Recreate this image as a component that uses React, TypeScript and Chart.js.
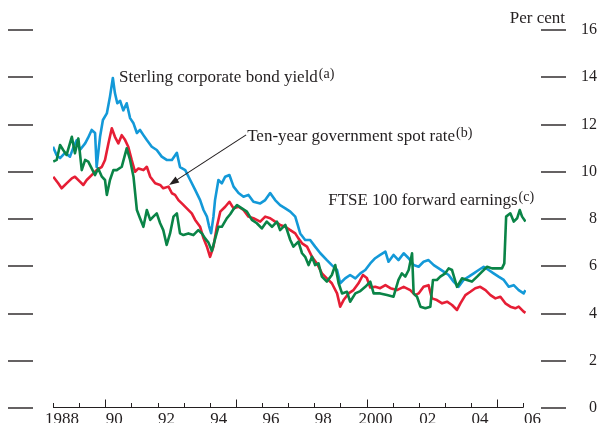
import { useEffect, useRef } from 'react';
import { Chart, registerables } from 'chart.js';

Chart.register(...registerables);

const FONT = '"Liberation Serif", "Times New Roman", serif';
const TEXT_COLOR = '#231f20';
const AXIS_COLOR = '#231f20';

// Tick labels
const yearTicks = [1988, 1989, 1990, 1991, 1992, 1993, 1994, 1995, 1996, 1997, 1998, 1999, 2000, 2001, 2002, 2003, 2004, 2005, 2006];
const yearLabels = ['1988', '', '90', '', '92', '', '94', '', '96', '', '98', '', '2000', '', '02', '', '04', '', '06'];
const majorYears = [1990, 1995, 2000, 2005];
const yTickValues = [0, 2, 4, 6, 8, 10, 12, 14, 16];

// Sterling corporate bond yield (a)
const corpBondDates = [1988.00, 1988.14, 1988.27, 1988.46, 1988.65, 1988.77, 1988.91, 1989.03, 1989.23, 1989.34, 1989.48, 1989.61, 1989.67, 1989.80, 1989.91, 1990.06, 1990.18, 1990.29, 1990.37, 1990.46, 1990.57, 1990.69, 1990.82, 1990.95, 1991.08, 1991.21, 1991.33, 1991.46, 1991.59, 1991.78, 1991.97, 1992.16, 1992.35, 1992.55, 1992.74, 1992.86, 1993.06, 1993.25, 1993.44, 1993.63, 1993.76, 1993.89, 1993.97, 1994.05, 1994.14, 1994.20, 1994.33, 1994.46, 1994.59, 1994.75, 1994.91, 1995.10, 1995.29, 1995.48, 1995.67, 1995.93, 1996.12, 1996.31, 1996.50, 1996.69, 1996.89, 1997.08, 1997.27, 1997.46, 1997.65, 1997.84, 1998.03, 1998.23, 1998.48, 1998.67, 1998.87, 1998.99, 1999.18, 1999.37, 1999.57, 1999.76, 1999.95, 2000.14, 2000.33, 2000.52, 2000.72, 2000.84, 2001.03, 2001.22, 2001.42, 2001.61, 2001.80, 2001.99, 2002.18, 2002.37, 2002.57, 2002.76, 2002.95, 2003.14, 2003.33, 2003.52, 2003.71, 2003.91, 2004.10, 2004.29, 2004.48, 2004.67, 2004.86, 2005.05, 2005.25, 2005.44, 2005.63, 2005.82, 2006.01, 2006.08];
const corpBondYield = [11.06, 10.7, 10.58, 10.8, 10.64, 11.0, 11.34, 10.92, 11.2, 11.43, 11.77, 11.64, 10.2, 11.48, 12.19, 12.47, 13.18, 13.97, 13.33, 12.9, 13.0, 12.6, 12.9, 12.27, 12.05, 11.64, 11.77, 11.55, 11.34, 11.06, 10.92, 10.64, 10.5, 10.5, 10.8, 10.2, 10.07, 9.65, 9.23, 8.8, 8.38, 8.1, 7.7, 7.4, 8.1, 8.8, 9.65, 9.51, 9.79, 9.86, 9.37, 9.1, 8.94, 9.02, 8.73, 8.66, 8.8, 9.1, 8.8, 8.59, 8.45, 8.31, 8.1, 7.39, 7.11, 7.11, 6.83, 6.55, 6.26, 6.05, 5.84, 5.28, 5.49, 5.63, 5.49, 5.7, 5.84, 6.12, 6.34, 6.48, 6.62, 6.19, 6.48, 6.26, 6.55, 6.34, 6.05, 5.98, 6.19, 6.26, 6.05, 5.91, 5.77, 5.63, 5.35, 5.13, 5.42, 5.56, 5.7, 5.84, 5.98, 5.84, 5.7, 5.56, 5.42, 5.13, 5.2, 4.99, 4.85, 4.99];

// Ten-year government spot rate (b)
const giltDates = [1988.01, 1988.20, 1988.33, 1988.52, 1988.72, 1988.84, 1989.03, 1989.16, 1989.29, 1989.48, 1989.67, 1989.87, 1989.99, 1990.12, 1990.25, 1990.37, 1990.50, 1990.63, 1990.76, 1990.88, 1991.01, 1991.14, 1991.27, 1991.46, 1991.59, 1991.72, 1991.91, 1992.10, 1992.22, 1992.42, 1992.55, 1992.67, 1992.80, 1992.93, 1993.12, 1993.31, 1993.44, 1993.63, 1993.76, 1993.89, 1994.01, 1994.14, 1994.27, 1994.40, 1994.59, 1994.75, 1994.91, 1995.10, 1995.29, 1995.48, 1995.67, 1995.93, 1996.12, 1996.31, 1996.50, 1996.69, 1996.89, 1997.08, 1997.27, 1997.39, 1997.53, 1997.72, 1997.91, 1998.10, 1998.29, 1998.48, 1998.67, 1998.87, 1998.99, 1999.12, 1999.31, 1999.50, 1999.69, 1999.86, 2000.01, 2000.14, 2000.33, 2000.52, 2000.72, 2000.91, 2001.16, 2001.42, 2001.67, 2001.86, 2001.99, 2002.18, 2002.37, 2002.50, 2002.69, 2002.89, 2003.08, 2003.27, 2003.46, 2003.59, 2003.78, 2003.97, 2004.16, 2004.35, 2004.55, 2004.74, 2004.93, 2005.12, 2005.31, 2005.50, 2005.69, 2005.82, 2006.01, 2006.08];
const giltSpotRate = [9.79, 9.51, 9.3, 9.51, 9.72, 9.79, 9.58, 9.44, 9.65, 9.86, 10.07, 10.21, 10.5, 11.2, 11.84, 11.48, 11.2, 11.55, 11.34, 11.06, 10.5, 10.0, 10.14, 10.07, 10.21, 9.79, 9.51, 9.44, 9.3, 9.37, 9.09, 9.02, 8.8, 8.66, 8.45, 8.24, 7.96, 7.67, 7.18, 6.83, 6.4, 6.83, 7.67, 8.31, 8.52, 8.73, 8.45, 8.52, 8.38, 8.1, 8.03, 7.89, 8.1, 8.03, 7.89, 7.75, 7.67, 7.53, 7.39, 7.18, 6.97, 6.83, 6.4, 6.12, 5.7, 5.49, 5.28, 4.85, 4.29, 4.57, 4.85, 4.99, 5.28, 5.63, 5.5, 5.1, 5.13, 5.07, 5.2, 5.07, 4.99, 5.13, 4.99, 4.78, 4.85, 5.13, 5.2, 4.64, 4.57, 4.43, 4.5, 4.36, 4.15, 4.43, 4.78, 4.92, 5.07, 5.13, 4.99, 4.78, 4.64, 4.71, 4.43, 4.29, 4.22, 4.29, 4.08, 4.03];

// FTSE 100 forward earnings (c)
const ftseDates = [1988.01, 1988.14, 1988.27, 1988.39, 1988.52, 1988.72, 1988.84, 1988.97, 1989.10, 1989.23, 1989.35, 1989.48, 1989.61, 1989.73, 1989.87, 1989.99, 1990.06, 1990.18, 1990.31, 1990.44, 1990.63, 1990.82, 1990.95, 1991.08, 1991.21, 1991.33, 1991.46, 1991.59, 1991.72, 1991.84, 1991.97, 1992.10, 1992.22, 1992.35, 1992.48, 1992.61, 1992.74, 1992.86, 1992.99, 1993.18, 1993.37, 1993.56, 1993.70, 1993.82, 1993.95, 1994.08, 1994.20, 1994.33, 1994.46, 1994.65, 1994.78, 1994.91, 1995.04, 1995.23, 1995.42, 1995.61, 1995.80, 1995.99, 1996.18, 1996.38, 1996.57, 1996.69, 1996.89, 1997.08, 1997.20, 1997.39, 1997.53, 1997.65, 1997.78, 1997.91, 1998.03, 1998.16, 1998.29, 1998.48, 1998.67, 1998.80, 1998.93, 1999.06, 1999.25, 1999.37, 1999.57, 1999.76, 1999.95, 2000.14, 2000.27, 2000.52, 2000.78, 2001.03, 2001.22, 2001.35, 2001.48, 2001.61, 2001.74, 2001.80, 2001.93, 2002.06, 2002.25, 2002.44, 2002.54, 2002.69, 2002.82, 2003.01, 2003.14, 2003.27, 2003.46, 2003.65, 2003.84, 2004.03, 2004.23, 2004.42, 2004.61, 2004.80, 2004.99, 2005.18, 2005.27, 2005.34, 2005.50, 2005.63, 2005.76, 2005.86, 2005.95, 2006.08];
const ftseEarnings = [10.43, 10.5, 11.13, 10.92, 10.71, 11.48, 10.78, 11.41, 10.07, 10.5, 10.43, 10.14, 9.86, 10.14, 9.79, 9.65, 9.02, 9.65, 10.07, 10.07, 10.21, 10.99, 10.5, 9.79, 8.38, 8.03, 7.67, 8.38, 7.96, 8.1, 8.24, 7.82, 7.53, 6.9, 7.39, 8.1, 8.24, 7.39, 7.32, 7.39, 7.32, 7.53, 7.39, 7.18, 7.0, 6.65, 7.15, 7.67, 7.67, 8.03, 8.2, 8.42, 8.59, 8.45, 8.31, 7.96, 7.82, 7.6, 7.89, 7.67, 7.89, 7.53, 7.75, 7.11, 6.83, 7.04, 6.55, 6.4, 6.05, 6.4, 6.05, 6.12, 5.56, 5.35, 5.63, 6.05, 5.28, 4.85, 4.92, 4.5, 4.85, 4.95, 5.13, 5.35, 4.85, 4.85, 4.78, 4.71, 5.42, 5.7, 5.56, 5.84, 6.55, 4.85, 4.71, 4.29, 4.22, 4.29, 5.42, 5.42, 5.56, 5.7, 5.91, 5.84, 5.13, 5.49, 5.42, 5.35, 5.56, 5.77, 5.98, 5.91, 5.91, 5.91, 6.12, 8.1, 8.24, 7.89, 8.03, 8.38, 8.1, 7.89];

// Annotation anchors in data units (year, per cent)
const seriesLabels = [
  { text: 'Sterling corporate bond yield', sup: '(a)', x: 1990.53, y: 13.8 },
  { text: 'Ten-year government spot rate', sup: '(b)', x: 1995.43, y: 11.32 },
  { text: 'FTSE 100 forward earnings', sup: '(c)', x: 1998.53, y: 8.6 },
];
const arrowFrom = { x: 1995.39, y: 11.56 };
const arrowTo = { x: 1992.44, y: 9.44 };

const toPoints = (dates: number[], values: number[]) => dates.map((d, i) => ({ x: d, y: values[i] }));

const decorPlugin = {
  id: 'decor',
  afterDraw(chart: any) {
    const { ctx, chartArea, scales } = chart;
    const xs = scales.x;
    const ys = scales.y;
    const line = (x1: number, y1: number, x2: number, y2: number) => {
      ctx.beginPath();
      ctx.moveTo(x1, y1);
      ctx.lineTo(x2, y2);
      ctx.stroke();
    };
    ctx.save();
    ctx.strokeStyle = AXIS_COLOR;
    ctx.lineWidth = 1.4;
    yTickValues.forEach((v) => {
      const y = Math.round(ys.getPixelForValue(v));
      line(chartArea.left - 45, y, chartArea.left - 20, y);
      line(chartArea.right + 15, y, chartArea.right + 40, y);
    });
    // x axis with upward ticks
    const y0 = Math.round(ys.getPixelForValue(0)) - 0.5;
    ctx.lineWidth = 1;
    const xStart = xs.getPixelForValue(yearTicks[0]);
    const xEnd = xs.getPixelForValue(yearTicks[yearTicks.length - 1]);
    line(xStart, y0, xEnd, y0);
    yearTicks.forEach((yr) => {
      const x = Math.round(xs.getPixelForValue(yr)) + 0.5;
      const len = majorYears.includes(yr) ? 8 : 4.5;
      line(x, y0, x, y0 - len);
    });

    // Per cent
    ctx.fillStyle = TEXT_COLOR;
    ctx.font = `17px ${FONT}`;
    ctx.textAlign = 'right';
    ctx.textBaseline = 'alphabetic';
    ctx.fillText('Per cent', chartArea.right + 39, ys.getPixelForValue(16) - 7);

    // Series labels
    ctx.textAlign = 'left';
    seriesLabels.forEach((l) => {
      const x = xs.getPixelForValue(l.x);
      const y = ys.getPixelForValue(l.y);
      ctx.font = `17px ${FONT}`;
      ctx.fillText(l.text, x, y);
      const w = ctx.measureText(l.text).width;
      ctx.font = `14px ${FONT}`;
      ctx.fillText(l.sup, x + w + 1, y - 4);
    });

    // Arrow
    const ax1 = xs.getPixelForValue(arrowFrom.x);
    const ay1 = ys.getPixelForValue(arrowFrom.y);
    const ax2 = xs.getPixelForValue(arrowTo.x);
    const ay2 = ys.getPixelForValue(arrowTo.y);
    const ang = Math.atan2(ay2 - ay1, ax2 - ax1);
    const headLen = 10;
    const headW = 3.5;
    ctx.lineWidth = 1.1;
    line(ax1, ay1, ax2 - Math.cos(ang) * headLen * 0.8, ay2 - Math.sin(ang) * headLen * 0.8);
    ctx.beginPath();
    ctx.moveTo(ax2, ay2);
    ctx.lineTo(ax2 - Math.cos(ang) * headLen - Math.sin(ang) * headW, ay2 - Math.sin(ang) * headLen + Math.cos(ang) * headW);
    ctx.lineTo(ax2 - Math.cos(ang) * headLen + Math.sin(ang) * headW, ay2 - Math.sin(ang) * headLen - Math.cos(ang) * headW);
    ctx.closePath();
    ctx.fill();
    ctx.restore();
  },
};

export default function App() {
  const canvasRef = useRef<HTMLCanvasElement | null>(null);

  useEffect(() => {
    if (!canvasRef.current) return;
    const chart = new Chart(canvasRef.current, {
      type: 'line',
      data: {
        datasets: [
          {
            label: 'FTSE 100 forward earnings',
            data: toPoints(ftseDates, ftseEarnings),
            borderColor: '#0a8447',
            borderWidth: 2.6,
            pointRadius: 0,
            tension: 0,
            borderJoinStyle: 'round',
          },
          {
            label: 'Ten-year government spot rate',
            data: toPoints(giltDates, giltSpotRate),
            borderColor: '#e61e35',
            borderWidth: 2.6,
            pointRadius: 0,
            tension: 0,
            borderJoinStyle: 'round',
          },
          {
            label: 'Sterling corporate bond yield',
            data: toPoints(corpBondDates, corpBondYield),
            borderColor: '#1399d8',
            borderWidth: 2.6,
            pointRadius: 0,
            tension: 0,
            borderJoinStyle: 'round',
          },
        ],
      },
      options: {
        animation: false,
        responsive: false,
        devicePixelRatio: 1,
        layout: { padding: { left: 53, top: 30, right: 0, bottom: 0 } },
        plugins: {
          legend: { display: false },
          tooltip: { enabled: false },
          title: { display: false },
        },
        scales: {
          x: {
            type: 'linear',
            position: 'bottom',
            min: 1988,
            max: 2006.1,
            afterBuildTicks: (scale: any) => {
              scale.ticks = yearTicks.map((v) => ({ value: v }));
            },
            afterFit: (scale: any) => {
              scale.height = 15;
            },
            grid: { display: false, drawTicks: false, tickLength: 0 },
            border: { display: false },
            ticks: {
              autoSkip: false,
              maxRotation: 0,
              minRotation: 0,
              labelOffset: 9,
              padding: 1,
              color: TEXT_COLOR,
              font: { family: FONT, size: 17 },
              callback: (_v: any, i: number) => yearLabels[i],
            },
          },
          y: {
            type: 'linear',
            position: 'right',
            min: 0,
            max: 16,
            afterBuildTicks: (scale: any) => {
              scale.ticks = yTickValues.map((v) => ({ value: v }));
            },
            afterFit: (scale: any) => {
              scale.width = 71;
            },
            grid: { display: false, drawTicks: true, tickLength: 50 },
            border: { display: false },
            ticks: {
              crossAlign: 'far',
              padding: 0,
              color: TEXT_COLOR,
              font: { family: FONT, size: 16 },
              callback: (v: any) => String(v),
            },
          },
        },
      },
      plugins: [decorPlugin],
    } as any);
    return () => chart.destroy();
  }, []);

  return (
    <div style={{ position: 'absolute', left: 0, top: 0, width: 597, height: 423, background: '#fff' }}>
      <canvas ref={canvasRef} width={597} height={423} style={{ display: 'block' }} />
    </div>
  );
}
